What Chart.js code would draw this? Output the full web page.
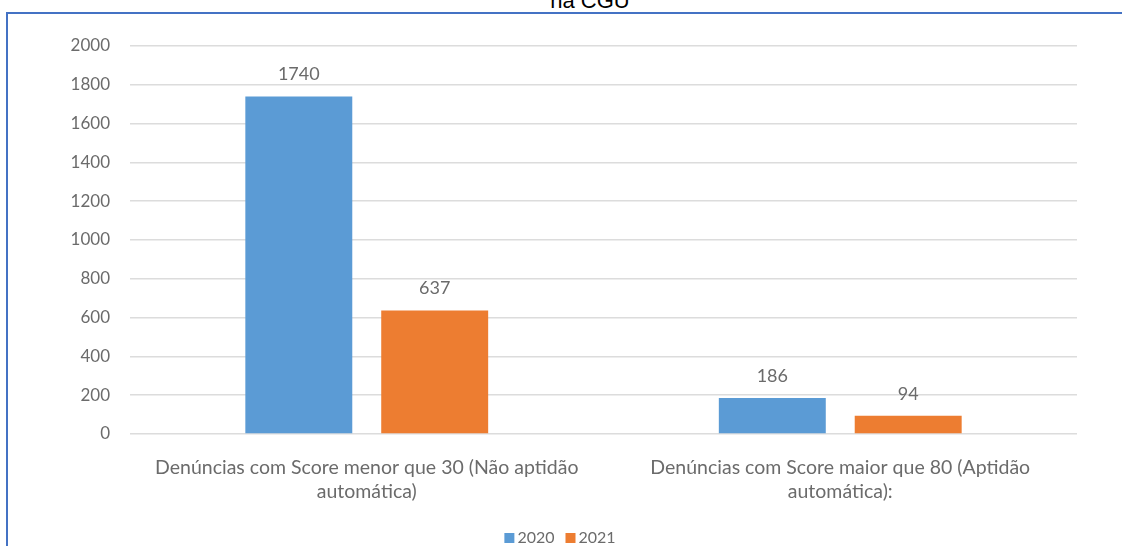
<!DOCTYPE html>
<html>
<head>
<meta charset="utf-8">
<script src="https://cdn.jsdelivr.net/npm/chart.js@4.4.1/dist/chart.umd.min.js"></script>
<style>
  html, body { margin: 0; padding: 0; background: #fff; overflow: hidden; }
  #page { position: relative; width: 1122px; height: 546px; overflow: hidden; }
  #frame { position: absolute; left: 6px; top: 12px; width: 1200px; height: 600px;
           border-left: 2px solid #4472C4; border-top: 2px solid #4472C4; }
  #title { position: absolute; left: 0; width: 1180px; top: -10px; text-align: center;
           font: 22px "Liberation Sans", Arial, sans-serif; line-height: 22px; color: #000; }
  #wrap { position: absolute; left: 0; top: 0; width: 1122px; height: 546px; }
</style>
</head>
<body>
<div id="page">
  <div id="frame"></div>
  <div id="title">na CGU</div>
  <div id="wrap"><canvas id="myChart"></canvas></div>
</div>
<script>
const categories = [
  ['Denúncias com Score menor que 30 (Não aptidão', 'automática)'],
  ['Denúncias com Score maior que 80 (Aptidão', 'automática):']
];
const seriesNames = ['2020', '2021'];
const values2020 = [1740, 186];
const values2021 = [637, 94];
const seriesColors = ['#5B9BD5', '#ED7D31'];

const textColor = '#6b6b6b';
const fontFamily = 'Lato, "Open Sans", sans-serif';

const valueLabels = {
  id: 'valueLabels',
  afterDatasetsDraw(chart) {
    const ctx = chart.ctx;
    ctx.save();
    ctx.font = '18px ' + fontFamily;
    ctx.fillStyle = textColor;
    ctx.textAlign = 'center';
    ctx.textBaseline = 'middle';
    chart.data.datasets.forEach((ds, i) => {
      chart.getDatasetMeta(i).data.forEach((bar, j) => {
        ctx.fillText(String(ds.data[j]), bar.x, bar.y - 22);
      });
    });
    ctx.restore();
  }
};

const bottomLegend = {
  id: 'bottomLegend',
  afterDraw(chart) {
    const ctx = chart.ctx;
    ctx.save();
    ctx.font = '16px ' + fontFamily;
    ctx.textBaseline = 'middle';
    ctx.textAlign = 'left';
    const box = 10, gap = 3, space = 11, y = 538;
    const items = chart.data.datasets.map(ds => ({
      label: ds.label, color: ds.backgroundColor, w: ctx.measureText(ds.label).width
    }));
    let total = 0;
    items.forEach((it, i) => { total += box + gap + it.w + (i ? space : 0); });
    let x = 560 - total / 2;
    items.forEach((it, i) => {
      if (i) x += space;
      ctx.fillStyle = it.color;
      ctx.fillRect(x, y - box / 2, box, box);
      x += box + gap;
      ctx.fillStyle = textColor;
      ctx.fillText(it.label, x, y);
      x += it.w;
    });
    ctx.restore();
  }
};

new Chart(document.getElementById('myChart'), {
  type: 'bar',
  data: {
    labels: categories,
    datasets: [
      { label: seriesNames[0], data: values2020, backgroundColor: seriesColors[0] },
      { label: seriesNames[1], data: values2021, backgroundColor: seriesColors[1] }
    ]
  },
  options: {
    responsive: true,
    maintainAspectRatio: false,
    animation: false,
    categoryPercentage: 0.574,
    barPercentage: 0.787,
    layout: { padding: { top: 46, right: 45, bottom: 0, left: 0 } },
    plugins: {
      legend: { display: false },
      tooltip: { enabled: false }
    },
    scales: {
      x: {
        grid: { display: false },
        border: { display: false },
        ticks: {
          color: textColor,
          padding: 14,
          maxRotation: 0,
          font: { family: fontFamily, size: 19.5, lineHeight: 1.23 }
        },
        afterFit(scale) { scale.height = 112; }
      },
      y: {
        min: 0,
        max: 2000,
        grid: { color: '#dcdcdc', lineWidth: 1.5, drawTicks: false },
        border: { display: false },
        ticks: {
          stepSize: 200,
          color: textColor,
          padding: 20,
          font: { family: fontFamily, size: 17 },
          callback: value => String(value)
        },
        afterFit(scale) { scale.width = 130; }
      }
    }
  },
  plugins: [valueLabels, bottomLegend]
});
</script>
</body>
</html>
